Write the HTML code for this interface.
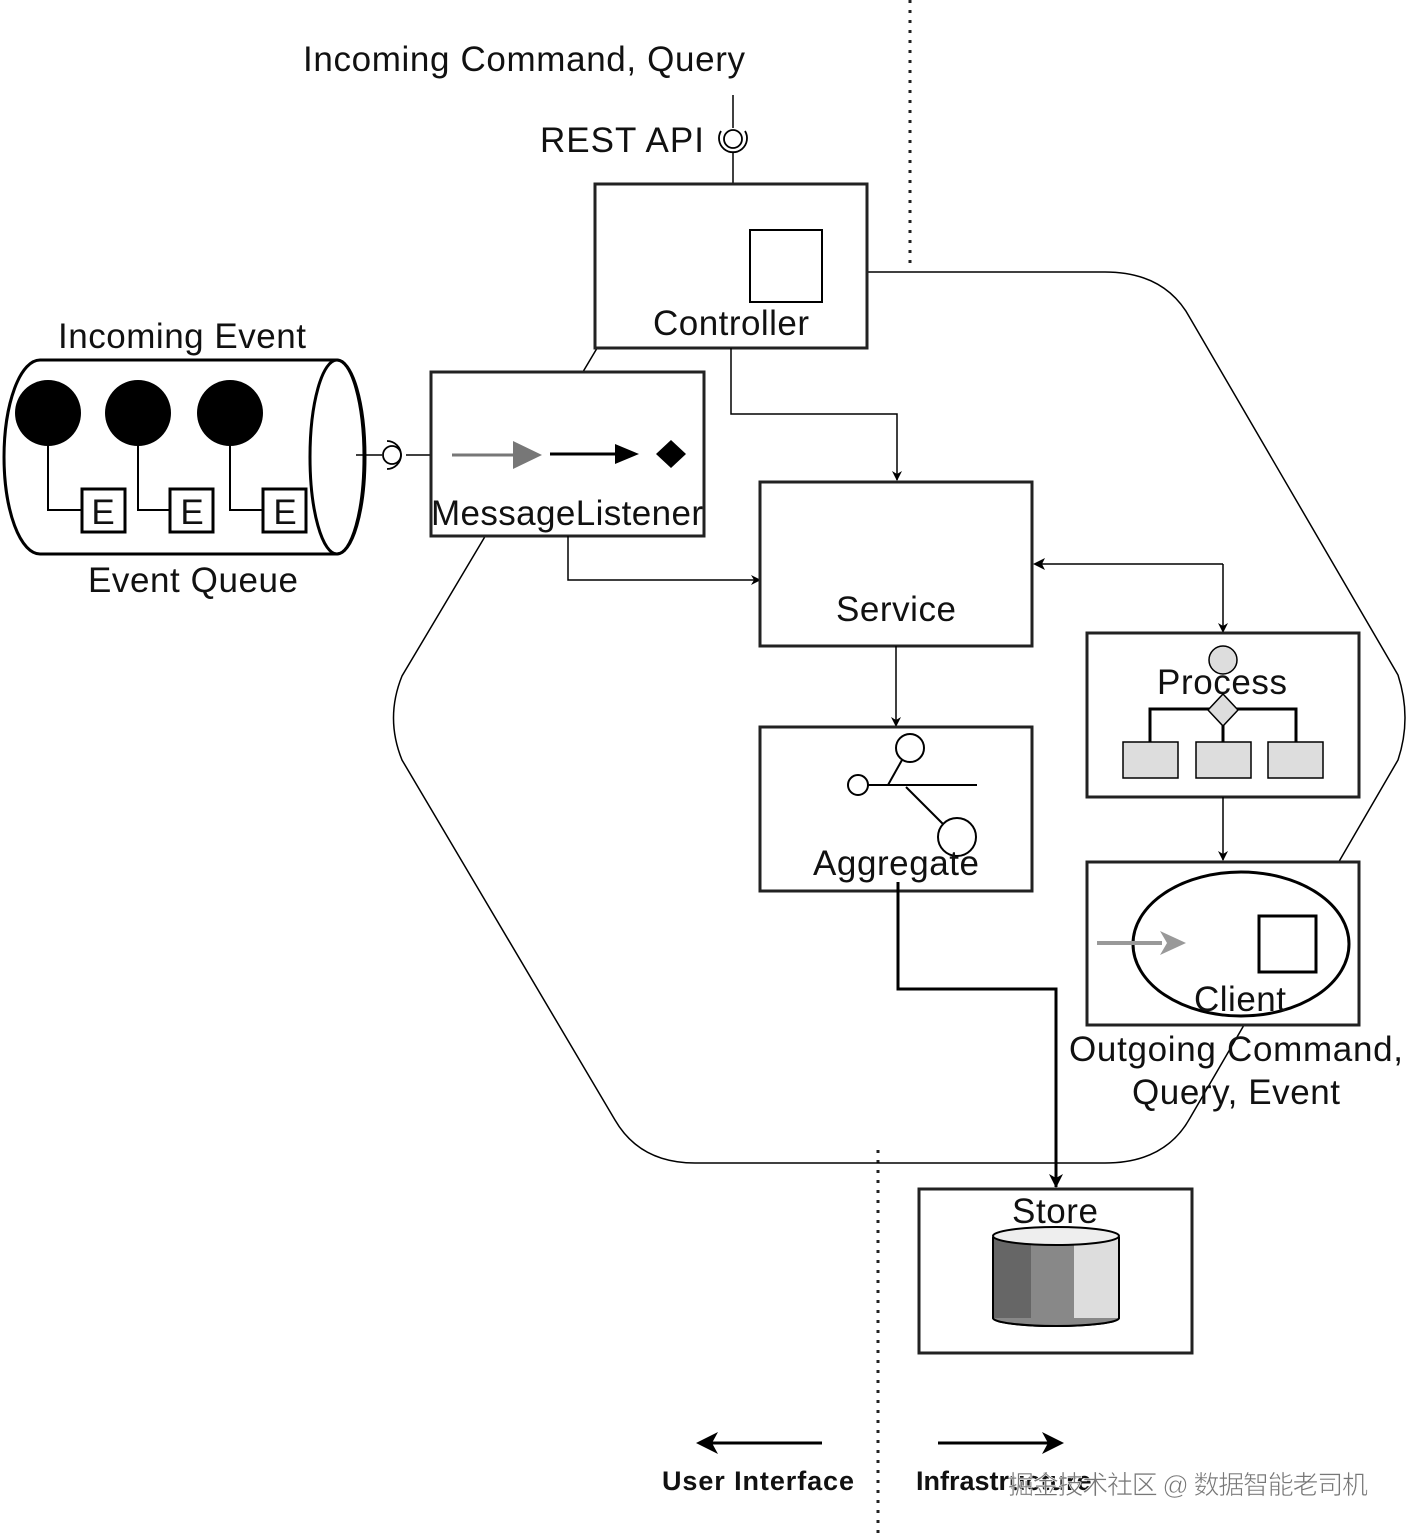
<!DOCTYPE html>
<html><head><meta charset="utf-8"><style>
html,body{margin:0;padding:0;background:#fff}
svg{display:block}
text{font-family:"Liberation Sans","Noto Sans CJK SC",sans-serif;fill:#111}
</style></head><body>
<svg width="1406" height="1536" viewBox="0 0 1406 1536" xmlns="http://www.w3.org/2000/svg">
<defs>
<marker id="a" markerWidth="10" markerHeight="10" refX="9" refY="5" orient="auto" markerUnits="userSpaceOnUse"><path d="M0,0 L10,5 L0,10 L3,5 z" fill="#000"/></marker>
<marker id="ab" markerWidth="14" markerHeight="14" refX="13" refY="7" orient="auto" markerUnits="userSpaceOnUse"><path d="M0,0 L14,7 L0,14 L4,7 z" fill="#000"/></marker>
</defs>
<line x1="910" y1="0" x2="910" y2="270" stroke="#222" stroke-width="3" stroke-dasharray="3,7"/>
<line x1="878" y1="1150" x2="878" y2="1536" stroke="#222" stroke-width="3" stroke-dasharray="3,7"/>
<path d="M700,272 L1105,272 Q1165,272 1190,318 L1398,675 Q1412,718 1398,760 L1190,1118 Q1165,1163 1105,1163 L695,1163 Q640,1163 615,1120 L402,760 Q385,718 402,676 L615,318 Q640,272 700,272 Z" fill="none" stroke="#000" stroke-width="1.5"/>
<text x="524" y="71" font-size="35" text-anchor="middle" textLength="442">Incoming Command, Query</text>
<text x="622" y="152" font-size="35" text-anchor="middle" textLength="164">REST API</text>
<line x1="733" y1="95" x2="733" y2="128" stroke="#000" stroke-width="1.5"/>
<circle cx="733" cy="139" r="9" fill="none" stroke="#000" stroke-width="1.8"/>
<path d="M721,131 A14,14 0 1 0 745,131" fill="none" stroke="#000" stroke-width="1.8"/>
<line x1="733" y1="153" x2="733" y2="184" stroke="#000" stroke-width="1.5"/>
<rect x="595" y="184" width="272" height="164" fill="#fff" stroke="#222" stroke-width="3"/>
<rect x="750" y="230" width="72" height="72" fill="#fff" stroke="#000" stroke-width="2"/>
<text x="731" y="335" font-size="35" text-anchor="middle" textLength="156">Controller</text>
<polyline points="731,348 731,414 897,414 897,480" fill="none" stroke="#000" stroke-width="1.5" marker-end="url(#a)"/>
<text x="182" y="348" font-size="35" text-anchor="middle" textLength="248">Incoming Event</text>
<path d="M40,360 L337,360 A28,97 0 0 1 337,554 L40,554 A36,97 0 0 1 40,360 Z" fill="#fff" stroke="#000" stroke-width="3"/>
<ellipse cx="337" cy="457" rx="27" ry="97" fill="none" stroke="#000" stroke-width="3"/>
<g fill="#000"><ellipse cx="48" cy="413" rx="33" ry="33"/><ellipse cx="138" cy="413" rx="33" ry="33"/><ellipse cx="230" cy="413" rx="33" ry="33"/></g>
<g fill="none" stroke="#000" stroke-width="2">
<polyline points="48,440 48,510 82,510"/><polyline points="138,440 138,510 170,510"/><polyline points="230,440 230,510 263,510"/>
<rect x="82" y="489" width="43" height="43" stroke-width="3"/><rect x="170" y="489" width="43" height="43" stroke-width="3"/><rect x="263" y="489" width="43" height="43" stroke-width="3"/>
</g>
<g font-size="35" text-anchor="middle"><text x="103" y="524">E</text><text x="192" y="524">E</text><text x="285" y="524">E</text></g>
<text x="193" y="592" font-size="35" text-anchor="middle" textLength="210">Event Queue</text>
<line x1="356" y1="455" x2="382" y2="455" stroke="#000" stroke-width="1.5"/>
<circle cx="392" cy="455" r="9" fill="none" stroke="#000" stroke-width="1.8"/>
<path d="M387,441 A14,14 0 0 1 387,469" fill="none" stroke="#000" stroke-width="1.8"/>
<line x1="406" y1="455" x2="430" y2="455" stroke="#000" stroke-width="1.5"/>
<rect x="431" y="372" width="273" height="164" fill="#fff" stroke="#222" stroke-width="3"/>
<line x1="452" y1="455" x2="515" y2="455" stroke="#777" stroke-width="3"/>
<path d="M513,441 L542,455 L513,469 z" fill="#777"/>
<line x1="550" y1="454" x2="618" y2="454" stroke="#000" stroke-width="3"/>
<path d="M615,444 L639,454 L615,464 z" fill="#000"/>
<path d="M671,440 L686,454 L671,468 L656,454 z" fill="#000"/>
<text x="567" y="525" font-size="35" text-anchor="middle" textLength="272">MessageListener</text>
<polyline points="568,536 568,580 760,580" fill="none" stroke="#000" stroke-width="1.5" marker-end="url(#a)"/>
<rect x="760" y="482" width="272" height="164" fill="#fff" stroke="#222" stroke-width="3"/>
<text x="896" y="621" font-size="35" text-anchor="middle" textLength="120">Service</text>
<line x1="1036" y1="564" x2="1223" y2="564" stroke="#000" stroke-width="1.5"/>
<path d="M1033,564 L1045,558 L1042,564 L1045,570 z" fill="#000"/>
<line x1="1223" y1="564" x2="1223" y2="632" stroke="#000" stroke-width="1.5" marker-end="url(#a)"/>
<line x1="896" y1="646" x2="896" y2="726" stroke="#000" stroke-width="1.5" marker-end="url(#a)"/>
<rect x="760" y="727" width="272" height="164" fill="#fff" stroke="#222" stroke-width="3"/>
<g fill="#fff" stroke="#000" stroke-width="2">
<line x1="868" y1="785" x2="977" y2="785"/>
<line x1="888" y1="785" x2="902" y2="760"/>
<line x1="906" y1="787" x2="945" y2="826"/>
<circle cx="910" cy="748" r="14"/>
<circle cx="858" cy="785" r="10"/>
<circle cx="957" cy="837" r="19"/>
</g>
<text x="896" y="875" font-size="35" text-anchor="middle" textLength="166">Aggregate</text>
<polyline points="898,882 898,989 1056,989 1056,1187" fill="none" stroke="#000" stroke-width="3" marker-end="url(#ab)"/>
<rect x="1087" y="633" width="272" height="164" fill="#fff" stroke="#222" stroke-width="3"/>
<circle cx="1223" cy="660" r="14" fill="#ddd" stroke="#000" stroke-width="1.5"/>
<text x="1222" y="694" font-size="35" text-anchor="middle" textLength="130">Process</text>
<polyline points="1150,743 1150,709 1296,709 1296,743" fill="none" stroke="#000" stroke-width="3"/>
<line x1="1223" y1="709" x2="1223" y2="743" stroke="#000" stroke-width="3"/>
<path d="M1223,694 L1238,710 L1223,726 L1208,710 z" fill="#ddd" stroke="#000" stroke-width="1.5"/>
<g fill="#ddd" stroke="#000" stroke-width="1.5"><rect x="1123" y="742" width="55" height="36"/><rect x="1196" y="742" width="55" height="36"/><rect x="1268" y="742" width="55" height="36"/></g>
<line x1="1223" y1="797" x2="1223" y2="860" stroke="#000" stroke-width="1.5" marker-end="url(#a)"/>
<rect x="1087" y="862" width="272" height="163" fill="#fff" stroke="#222" stroke-width="3"/>
<ellipse cx="1241" cy="944" rx="108" ry="72" fill="none" stroke="#000" stroke-width="3"/>
<line x1="1097" y1="943" x2="1162" y2="943" stroke="#999" stroke-width="4"/>
<path d="M1160,931 L1186,943 L1160,955 L1167,943 z" fill="#999"/>
<rect x="1259" y="916" width="57" height="56" fill="#fff" stroke="#000" stroke-width="3"/>
<text x="1240" y="1011" font-size="35" text-anchor="middle" textLength="92">Client</text>
<text x="1236" y="1061" font-size="35" text-anchor="middle" textLength="334">Outgoing Command,</text>
<text x="1236" y="1104" font-size="35" text-anchor="middle" textLength="208">Query, Event</text>
<rect x="919" y="1189" width="273" height="164" fill="#fff" stroke="#222" stroke-width="3"/>
<text x="1055" y="1223" font-size="35" text-anchor="middle" textLength="86">Store</text>
<rect x="993" y="1237" width="39" height="82" fill="#666"/>
<rect x="1031" y="1237" width="44" height="82" fill="#888"/>
<rect x="1074" y="1237" width="45" height="82" fill="#ddd"/>
<path d="M993,1237 L993,1318 A63,8 0 0 0 1119,1318 L1119,1237" fill="none" stroke="#000" stroke-width="2"/>
<path d="M993,1318 A63,8 0 0 0 1119,1318" fill="#888" stroke="#000" stroke-width="2"/>
<ellipse cx="1056" cy="1236" rx="63" ry="9" fill="#eee" stroke="#000" stroke-width="2"/>
<line x1="822" y1="1443" x2="710" y2="1443" stroke="#000" stroke-width="3"/>
<path d="M696,1443 L718,1432 L712,1443 L718,1454 z" fill="#000"/>
<text x="758" y="1490" font-size="27" font-weight="bold" text-anchor="middle" textLength="192">User Interface</text>
<line x1="938" y1="1443" x2="1050" y2="1443" stroke="#000" stroke-width="3"/>
<path d="M1064,1443 L1042,1432 L1048,1443 L1042,1454 z" fill="#000"/>
<text x="916" y="1490" font-size="27" font-weight="bold">Infrastructure</text>
<text x="1008" y="1494" font-size="26" textLength="360" style="fill:#777;stroke:#fff;stroke-width:0.6">掘金技术社区 @ 数据智能老司机</text>
</svg>
</body></html>
